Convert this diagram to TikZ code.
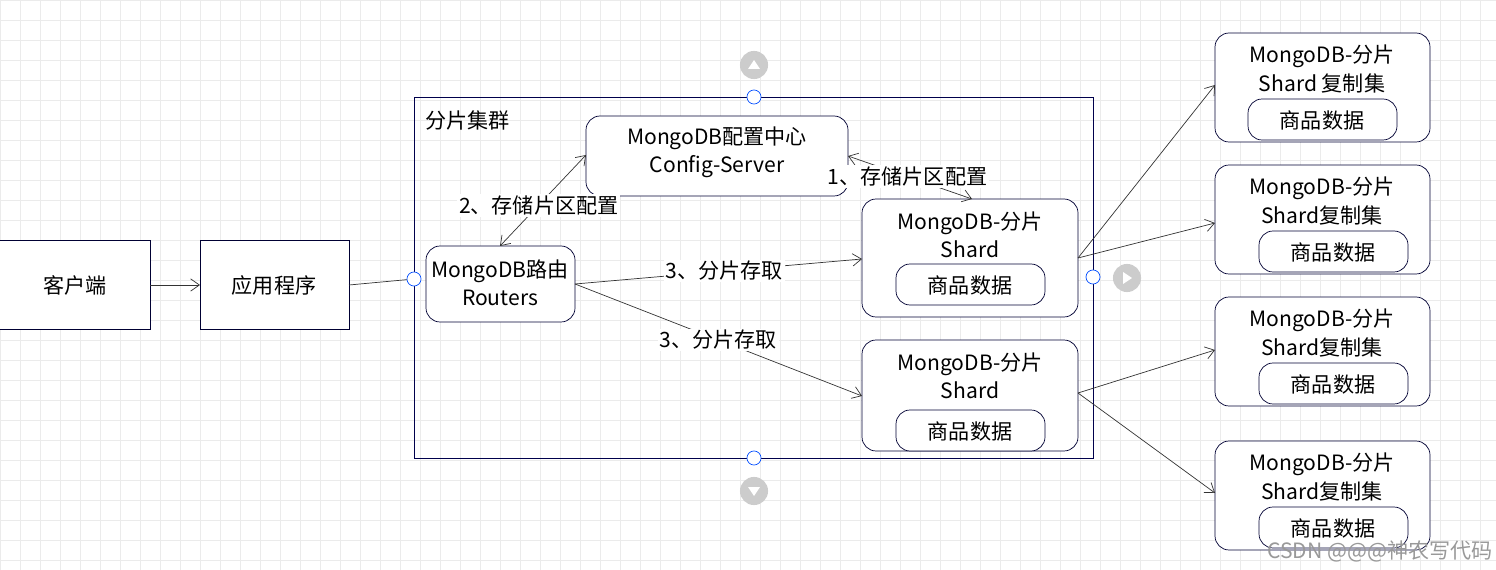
\documentclass[tikz,border=0pt]{standalone}
\usepackage{fontspec}
\setmainfont{Noto Sans CJK SC}
\usetikzlibrary{arrows.meta}
\tikzset{
  box/.style={draw=blue!20!black, thin, fill=white, inner sep=0pt},
  rbox/.style={draw=blue!20!black, thin, fill=white, rounded corners=8pt},
  lbl/.style={fill=white, inner sep=1pt, font=\fontsize{12}{14}\selectfont},
  conn/.style={draw=black!80, thin, -{Straight Barb[length=5pt,width=7pt]}},
  handle/.style={circle, draw=blue!70!cyan, fill=white, minimum size=8pt, inner sep=0pt, thin},
  nav/.style={circle, fill=black!20, minimum size=16pt, inner sep=0pt},
}
\newcommand{\txt}{\fontsize{12}{16}\selectfont}
\begin{document}
\begin{tikzpicture}[x=0.02cm, y=-0.02cm]
    \useasboundingbox (0,0) rectangle (1496,570);
    % background grid
    \foreach \g in {0,20,...,1480} \draw[black!8] (\g,0) -- (\g,570);
    \foreach \g in {0,20,...,560} \draw[black!8] (0,\g) -- (1496,\g);

    % --- client side ---
    \draw[box] (-2,240) rectangle (150,329);
    \node[font=\txt] (client) at (75,285) {客户端};
    \coordinate (clientR) at (150,285);
    \draw[box] (200,240) rectangle (349,329);
    \node[font=\txt] (app) at (274,285) {应用程序};
    \coordinate (appL) at (200,285);
    \coordinate (appR) at (349,285);

    % --- cluster frame ---
    \draw[draw=blue!30!black, thin] (414,97) rectangle (1093,458);
    \node[anchor=west, font=\txt] (cluster) at (419,120) {分片集群};

    % config server
    \draw[rbox] (586,116) rectangle (848,196);
    \node[font=\txt, align=center] (config) at (717,152) {MongoDB配置中心\\Config-Server};
    \coordinate (configL) at (586,155);
    \coordinate (configR) at (848,156);

    % router
    \draw[rbox] (426,246) rectangle (575,322);
    \node[font=\txt, align=center] (router) at (500,283) {MongoDB路由\\Routers};
    \coordinate (routerT) at (500,246);
    \coordinate (routerR) at (575,284);

    % shards inside cluster
    \foreach \n/\y/\h/\iy in {1/199/118/264, 2/340/111/410} {
      \draw[rbox] (862,\y) rectangle (1078,\y+\h);
      \node[font=\txt, align=center] (shard\n) at (970,\y+36) {MongoDB-分片\\Shard};
      \draw[rbox] (896,\iy) rectangle (1045,\iy+41);
      \node[font=\txt] (data\n) at (970,\iy+21) {商品数据};
    }
    \coordinate (shard1T) at (972,199);
    \coordinate (shard1L) at (862,259);
    \coordinate (shard1R) at (1078,258);
    \coordinate (shard2L) at (862,396);
    \coordinate (shard2R) at (1078,393);

    % --- replica sets ---
    \foreach \n/\y/\ix/\t in {1/33/1248/Shard 复制集, 2/165/1259/Shard复制集,
                               3/297/1259/Shard复制集, 4/441/1259/Shard复制集} {
      \draw[rbox] (1215,\y) rectangle (1430,\y+109);
      \node[font=\txt, align=center] (rs\n) at (1322,\y+36) {MongoDB-分片\\\t};
      \draw[rbox] (\ix,\y+66) rectangle (\ix+149,\y+107);
      \node[font=\txt] (rsdata\n) at (\ix+74,\y+87) {商品数据};
    }
    \coordinate (rs1L) at (1215,85);
    \coordinate (rs2L) at (1215,223);
    \coordinate (rs3L) at (1215,350);
    \coordinate (rs4L) at (1215,493);

    % --- connectors ---
    \draw[conn] (clientR) -- (appL);
    \draw[black!80, thin] (appR) -- (414,279);
    \draw[conn, {Straight Barb[length=5pt,width=7pt]}-{Straight Barb[length=5pt,width=7pt]}] (routerT) -- node[lbl, pos=0.45] {2、存储片区配置} (configL);
    \draw[conn, {Straight Barb[length=5pt,width=7pt]}-{Straight Barb[length=5pt,width=7pt]}] (configR) -- node[lbl, pos=0.48] {1、存储片区配置} (shard1T);
    \draw[conn] (routerR) -- node[lbl, pos=0.52] {3、分片存取} (shard1L);
    \draw[conn] (routerR) -- node[lbl, pos=0.5] {3、分片存取} (shard2L);
    \draw[conn] (shard1R) -- (rs1L);
    \draw[conn] (shard1R) -- (rs2L);
    \draw[conn] (shard2R) -- (rs3L);
    \draw[conn] (shard2R) -- (rs4L);

    % --- selection handles ---
    \node[handle] (hL) at (414,279) {};
    \node[handle] (hT) at (754,97) {};
    \node[handle] (hR) at (1093,277) {};
    \node[handle] (hB) at (754,458) {};
    \node[nav] (navT) at (754,65) {};
    \fill[white] (748,69) -- (760,69) -- (754,60) -- cycle;
    \node[nav] (navR) at (1127,278) {};
    \fill[white] (1123,272) -- (1123,284) -- (1132,278) -- cycle;
    \node[nav] (navB) at (754,491) {};
    \fill[white] (748,487) -- (760,487) -- (754,496) -- cycle;

    % watermark
    \node[black!40, font=\fontsize{12}{14}\selectfont] (mark) at (1380,551) {CSDN @@@神农写代码};
\end{tikzpicture}
\end{document}
